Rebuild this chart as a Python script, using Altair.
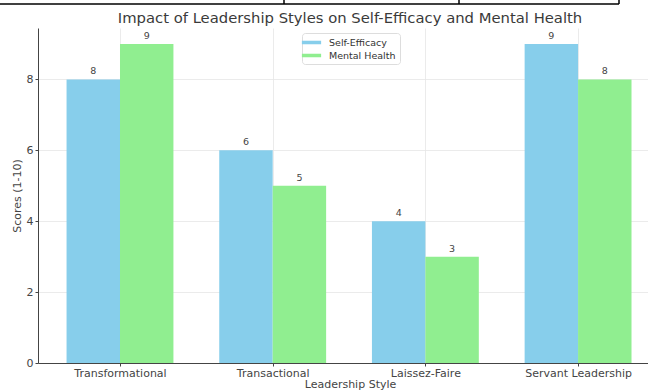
import altair as alt
import pandas as pd

categories = ["Transformational", "Transactional", "Laissez-Faire", "Servant Leadership"]
self_efficacy = [8, 6, 4, 9]
mental_health = [9, 5, 3, 8]
series_names = ["Self-Efficacy", "Mental Health"]
colors = ["#87CEEB", "#90EE90"]

rows = []
for i, c in enumerate(categories):
    rows.append({"idx": i, "category": c, "series": series_names[0], "value": self_efficacy[i]})
    rows.append({"idx": i, "category": c, "series": series_names[1], "value": mental_health[i]})
df = pd.DataFrame(rows)

label_expr = "[" + ",".join("'" + c + "'" for c in categories) + "][datum.value]"

xscale = alt.Scale(domain=[-0.537, 3.458], nice=False, zero=False)
yscale = alt.Scale(domain=[0, 9.45], nice=False)

base = alt.Chart(df).transform_calculate(
    x0="datum.idx + (datum.series == 'Self-Efficacy' ? -0.35 : 0)",
    x1="datum.idx + (datum.series == 'Self-Efficacy' ? 0 : 0.35)",
    xc="datum.idx + (datum.series == 'Self-Efficacy' ? -0.175 : 0.175)",
)

bars = base.mark_bar().encode(
    x=alt.X("x0:Q", scale=xscale,
            axis=alt.Axis(values=[0, 1, 2, 3], labelExpr=label_expr, title="Leadership Style",
                          grid=True, gridColor="#e6e6e6", gridWidth=0.8,
                          domainColor="#444", tickColor="#444", tickSize=3,
                          labelFontSize=11, labelColor="#444", labelPadding=1,
                          titleFontSize=11, titleColor="#444", titleFontWeight="normal",
                          titlePadding=0, titleX=312)),
    x2="x1:Q",
    y=alt.Y("value:Q", scale=yscale,
            axis=alt.Axis(values=[0, 2, 4, 6, 8], title="Scores (1-10)",
                          grid=True, gridColor="#e6e6e6", gridWidth=0.8,
                          domainColor="#444", tickColor="#444", tickSize=3,
                          labelFontSize=11, labelColor="#444", labelPadding=2,
                          titleFontSize=11, titleColor="#444", titleFontWeight="normal",
                          titlePadding=4)),
    y2=alt.datum(0),
    color=alt.Color("series:N", scale=alt.Scale(domain=series_names, range=colors),
                    sort=series_names,
                    legend=alt.Legend(title=None, orient="none", legendX=264, legendY=5,
                                      symbolType="M-1.75,-0.32L1.75,-0.32L1.75,0.32L-1.75,0.32Z",
                                      symbolSize=121, symbolStrokeWidth=0,
                                      labelFontSize=9.5, labelColor="#333",
                                      rowPadding=3, padding=4, labelOffset=12,
                                      strokeColor="#dddddd", fillColor="white",
                                      cornerRadius=3)),
)

labels = base.mark_text(fontSize=9.5, color="#444", baseline="bottom", dy=-3).encode(
    x=alt.X("xc:Q", scale=xscale),
    y=alt.Y("value:Q", scale=yscale),
    text=alt.Text("value:Q"),
)

deco_h = alt.Chart(pd.DataFrame({"a": [0]})).mark_rule(color="black", strokeWidth=1.5).encode(
    x=alt.value(-38), x2=alt.value(581), y=alt.value(-24))
deco_v = alt.Chart(pd.DataFrame({"p": [246, 421, 581]})).mark_rule(color="black", strokeWidth=1.5).encode(
    x=alt.X("p:Q", scale=None), y=alt.value(-28), y2=alt.value(-24))

chart = alt.layer(bars, labels, deco_h, deco_v).properties(
    width=610, height=335,
    title=alt.TitleParams("Impact of Leadership Styles on Self-Efficacy and Mental Health",
                          fontSize=14.8, fontWeight="normal", color="#3a3a3a", dx=7, offset=-27,
                          frame="group"),
    autosize=alt.AutoSizeParams(type="none"),
    padding={"left": 38, "top": 28, "right": 0, "bottom": 29},
    background="white",
).configure(font="DejaVu Sans").configure_view(strokeWidth=0)

chart.save("out.html", embed_options={"renderer": "svg", "actions": False})
